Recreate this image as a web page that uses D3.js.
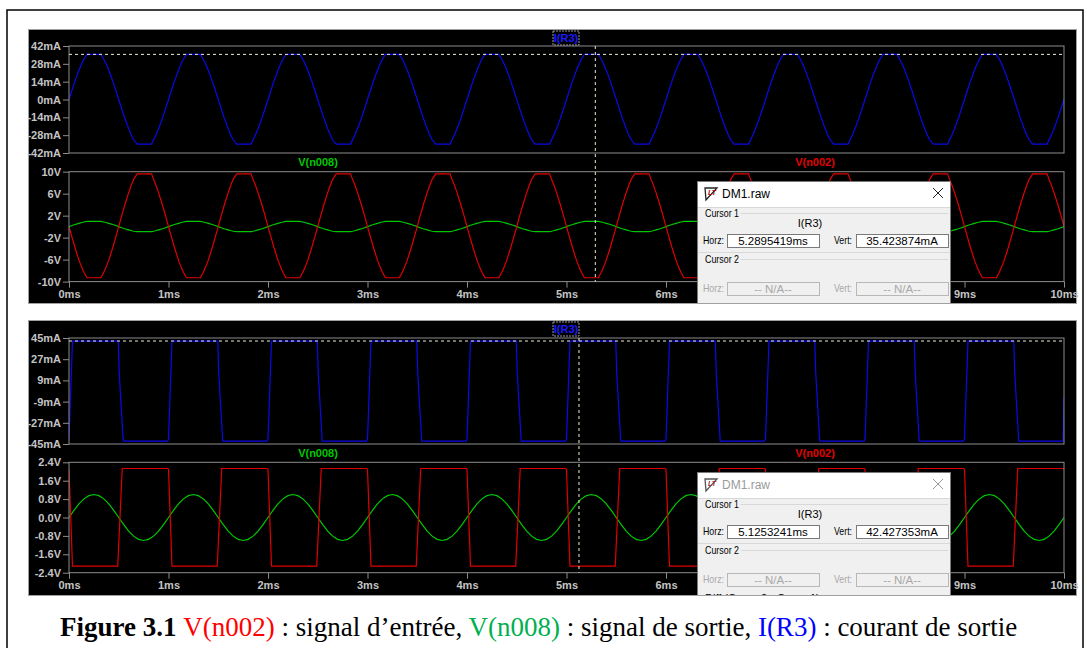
<!DOCTYPE html>
<html><head><meta charset="utf-8">
<script src="https://cdn.jsdelivr.net/npm/d3@7"></script>
<style>
html,body{margin:0;padding:0;background:#fff;}
svg{display:block;}
</style></head>
<body>
<svg id="chart" width="1087" height="648"></svg>
<script>
// ---------- DATA ----------
const timeTickValues = [0,1,2,3,4,5,6,7,8,9,10];
const timeTickLabels = ["0ms","1ms","2ms","3ms","4ms","5ms","6ms","7ms","8ms","9ms","10ms"];

const iTopTickValues = [42,28,14,0,-14,-28,-42];
const iTopTickLabels = ["42mA","28mA","14mA","0mA","-14mA","-28mA","-42mA"];
const vTopTickValues = [10,6,2,-2,-6,-10];
const vTopTickLabels = ["10V","6V","2V","-2V","-6V","-10V"];
const iBotTickValues = [45,27,9,-9,-27,-45];
const iBotTickLabels = ["45mA","27mA","9mA","-9mA","-27mA","-45mA"];
const vBotTickValues = [2.4,1.6,0.8,0,-0.8,-1.6,-2.4];
const vBotTickLabels = ["2.4V","1.6V","0.8V","0.0V","-0.8V","-1.6V","-2.4V"];

// start time (ms) of each of the ten visible periods
const cycleStarts = [0,1,2,3,4,5,6,7,8,9];

// top simulation : one period (times in ms from period start)
const topCycleT   = [0,0.03,0.06,0.10,0.13,0.15,0.18,0.32,0.35,0.37,0.40,0.44,0.47,0.50,0.53,0.56,0.60,0.63,0.65,0.685,0.83,0.85,0.87,0.90,0.94,0.97];
const iR3Top      = [0,7.3,14.4,22.9,28.4,31.6,35.4,35.4,31.6,28.4,22.9,14.4,7.3,0,-7.3,-14.4,-22.9,-28.4,-31.6,-35.0,-35.0,-31.6,-28.4,-22.9,-14.4,-7.3];
const vn002Top    = [0,-1.9,-3.8,-6.1,-7.5,-8.3,-9.3,-9.3,-8.3,-7.5,-6.1,-3.8,-1.9,0,2.0,3.9,6.2,7.7,8.6,9.6,9.6,8.6,7.7,6.2,3.9,2.0];
const vn008Top    = [0,0.2,0.39,0.6,0.75,0.84,0.95,0.95,0.84,0.75,0.6,0.39,0.2,0,-0.2,-0.39,-0.6,-0.75,-0.84,-0.92,-0.92,-0.84,-0.75,-0.6,-0.39,-0.2];

// bottom simulation : one period
const iR3BotT     = [0,0.035,0.495,0.505,0.545,0.99];
const iR3Bot      = [-41,42.4,42.4,15,-42.5,-42.5];
const vn002BotT   = [0,0.035,0.49,0.535,0.99];
const vn002Bot    = [2.1,-2.11,-2.11,2.13,2.13];
const vn008BotT   = [0,0.05,0.10,0.15,0.20,0.25,0.30,0.35,0.40,0.45,0.50,0.55,0.60,0.65,0.70,0.75,0.80,0.85,0.90,0.95];
const vn008Bot    = [0,0.31,0.59,0.81,0.95,1.0,0.95,0.81,0.59,0.31,0,-0.31,-0.59,-0.81,-0.95,-1.0,-0.95,-0.81,-0.59,-0.31];

// cursor read-outs
const cursorTop = {horz:"5.2895419ms", vert:"35.423874mA", t:5.2895419, v:35.423874};
const cursorBot = {horz:"5.1253241ms", vert:"42.427353mA", t:5.1253241, v:42.427353};

// ---------- helpers ----------
function tile(ts, vs, endT, endV){
  const pts = [];
  cycleStarts.forEach(s => ts.forEach((t,i) => pts.push([s+t, vs[i]])));
  pts.push([endT, endV]);
  return pts;
}

const svg = d3.select("#chart");
const C = {blue:"#0a0ae6", red:"#e00000", green:"#00c800", frame:"#8c8c8c", label:"#c4c4c4", cursor:"#ececd0"};
const x = d3.scaleLinear().domain([0,10]).range([69,1064]);
const DLG_X0 = 697, DLG_X1 = 950;

// outer figure border
svg.append("rect").attr("x",7).attr("y",10).attr("width",1076).attr("height",660)
  .attr("fill","none").attr("stroke","#000").attr("stroke-width",1.5);

let clipId = 0;
function plot(top, bottom, yDomain, tickVals, tickLabels, series, showX){
  const y = d3.scaleLinear().domain(yDomain).range([bottom, top]);
  const id = "clip"+(clipId++);
  svg.append("clipPath").attr("id",id).append("rect")
    .attr("x",69).attr("y",top).attr("width",995).attr("height",bottom-top);
  const ya = d3.axisLeft(y).tickValues(tickVals).tickFormat((d,i)=>tickLabels[i]).tickSize(6).tickPadding(2);
  const g = svg.append("g").attr("transform","translate(69,0)").call(ya);
  g.select(".domain").remove();
  g.selectAll("line").attr("stroke",C.frame);
  g.selectAll("text").attr("fill",C.label).attr("font-family","Liberation Sans, Arial, sans-serif")
    .attr("font-weight","bold").attr("font-size","11px");
  if(showX){
    const xa = d3.axisBottom(x).tickValues(timeTickValues).tickFormat((d,i)=>timeTickLabels[i]).tickSize(6).tickPadding(3);
    const gx = svg.append("g").attr("transform",`translate(0,${bottom})`).call(xa);
    gx.select(".domain").remove();
    gx.selectAll("line").attr("stroke",C.frame);
    gx.selectAll("text").attr("fill",C.label).attr("font-family","Liberation Sans, Arial, sans-serif")
      .attr("font-weight","bold").attr("font-size","11px");
    // labels entirely hidden behind the cursor dialog are not drawn
    gx.selectAll(".tick").filter(d => x(d)-14 > DLG_X0 && x(d)+14 < DLG_X1).select("text").remove();
  }
  const line = d3.line().x(d=>x(d[0])).y(d=>y(d[1]));
  const gs = svg.append("g").attr("clip-path",`url(#${id})`);
  series.forEach(s => gs.append("path").attr("d",line(s.data)).attr("fill","none")
     .attr("stroke",s.color).attr("stroke-width",1.2));
  svg.append("rect").attr("x",69).attr("y",top).attr("width",995).attr("height",bottom-top)
    .attr("fill","none").attr("stroke",C.frame).attr("stroke-width",1);
  return y;
}

function headerLabel(text, cx, cy, color, boxed){
  if(boxed){
    svg.append("rect").attr("x",cx-13).attr("y",cy-7).attr("width",26).attr("height",14)
      .attr("fill","#000").attr("stroke","#9a9a9a").attr("stroke-dasharray","2,1");
  }
  svg.append("text").attr("x",cx).attr("y",cy+4).attr("text-anchor","middle")
    .attr("font-family","Liberation Sans, Arial, sans-serif").attr("font-weight","bold")
    .attr("font-size","11px").attr("fill",color).text(text);
}

function screenshot(y0, y1){
  svg.append("rect").attr("x",28.5).attr("y",y0+0.5).attr("width",1048).attr("height",y1-y0)
    .attr("fill","#000").attr("stroke","#a0a0a0").attr("stroke-width",1);
}

function cursors(yScaleTop, cur, vTop, vBottom){
  const cy = yScaleTop(cur.v), cx = x(cur.t);
  svg.append("line").attr("x1",69).attr("x2",1064).attr("y1",cy).attr("y2",cy)
    .attr("stroke",C.cursor).attr("stroke-dasharray","3,3");
  svg.append("line").attr("x1",cx).attr("x2",cx).attr("y1",vTop).attr("y2",vBottom)
    .attr("stroke",C.cursor).attr("stroke-dasharray","3,3");
}

function dialog(x0, y0, clipBottom, cur, active){
  const id = "dlg"+(clipId++);
  svg.append("clipPath").attr("id",id).append("rect")
    .attr("x",x0-1).attr("y",y0-1).attr("width",256).attr("height",clipBottom-y0+1);
  const g = svg.append("g").attr("clip-path",`url(#${id})`);
  const W = DLG_X1 - DLG_X0;
  const font = "Liberation Sans, Arial, sans-serif";
  g.append("rect").attr("x",x0+0.5).attr("y",y0+0.5).attr("width",W).attr("height",140)
    .attr("fill","#f0f0f0").attr("stroke","#7a7a7a");
  g.append("rect").attr("x",x0+1).attr("y",y0+1).attr("width",W-1).attr("height",25).attr("fill","#fff");
  // icon
  const ic = g.append("g").attr("transform",`translate(${x0+8},${y0+6})`);
  ic.append("path").attr("d","M0,1 L12,1 L1,13 Z").attr("fill","none").attr("stroke",active?"#222":"#555").attr("stroke-width",1.3);
  ic.append("text").attr("x",3).attr("y",8).attr("font-family",font).attr("font-weight","bold")
    .attr("font-style","italic").attr("font-size","7px").attr("fill",active?"#b00000":"#a03030").text("LT");
  g.append("text").attr("x",x0+25).attr("y",y0+17).attr("font-family",font).attr("font-size","12px")
    .attr("fill",active?"#000":"#9a9a9a").text("DM1.raw");
  const xc = x0+241, yc = y0+12;
  g.append("path").attr("d",`M${xc-5},${yc-5}L${xc+5},${yc+5}M${xc+5},${yc-5}L${xc-5},${yc+5}`)
    .attr("stroke",active?"#222":"#9a9a9a").attr("stroke-width",1);
  // group 1
  g.append("line").attr("x1",x0+1).attr("x2",x0+W).attr("y1",y0+26.5).attr("y2",y0+26.5).attr("stroke","#d8d8d8");
  g.append("line").attr("x1",x0+44).attr("x2",x0+W-2).attr("y1",y0+32.5).attr("y2",y0+32.5).attr("stroke","#d8d8d8");
  g.append("text").attr("x",x0+8).attr("y",y0+36).attr("font-family",font).attr("font-size","11px").attr("fill","#000")
    .attr("textLength",34).attr("lengthAdjust","spacingAndGlyphs").text("Cursor 1");
  g.append("text").attr("x",x0+113).attr("y",y0+46).attr("text-anchor","middle").attr("font-family",font).attr("font-size","11px").attr("fill","#000").text("I(R3)");
  function field(lbl, lx, lw, bx, by, val, enabled){
    g.append("text").attr("x",lx).attr("y",by+10).attr("font-family",font).attr("font-size","10.5px")
      .attr("textLength",lw).attr("lengthAdjust","spacingAndGlyphs")
      .attr("fill",enabled?"#000":"#a8a8a8").text(lbl);
    g.append("rect").attr("x",bx+0.5).attr("y",by+0.5).attr("width",92).attr("height",13)
      .attr("fill",enabled?"#fff":"#f0f0f0").attr("stroke",enabled?"#7a7a7a":"#b8b8b8");
    g.append("text").attr("x",bx+46).attr("y",by+11).attr("text-anchor","middle").attr("font-family",font)
      .attr("font-size","11.5px").attr("fill",enabled?"#000":"#a8a8a8").text(val);
  }
  field("Horz:", x0+6, 21, x0+30, y0+53, cur.horz, true);
  field("Vert:", x0+137, 18, x0+159, y0+53, cur.vert, true);
  g.append("line").attr("x1",x0+1).attr("x2",x0+W).attr("y1",y0+71.5).attr("y2",y0+71.5).attr("stroke","#d8d8d8");
  g.append("line").attr("x1",x0+44).attr("x2",x0+W-2).attr("y1",y0+78.5).attr("y2",y0+78.5).attr("stroke","#d8d8d8");
  g.append("text").attr("x",x0+8).attr("y",y0+82).attr("font-family",font).attr("font-size","11px").attr("fill","#000")
    .attr("textLength",34).attr("lengthAdjust","spacingAndGlyphs").text("Cursor 2");
  field("Horz:", x0+6, 21, x0+30, y0+101, "-- N/A--", false);
  field("Vert:", x0+137, 18, x0+159, y0+101, "-- N/A--", false);
  g.append("text").attr("x",x0+8).attr("y",y0+130).attr("font-family",font).attr("font-size","11px").attr("fill","#000").text("Diff (Cursor2 - Cursor1)");
}

// ---------- TOP SCREENSHOT ----------
screenshot(29, 303);
const yA = plot(46, 153, [-42,42], iTopTickValues, iTopTickLabels,
  [{color:C.blue, data:tile(topCycleT, iR3Top, 10, 0)}], false);
const yB = plot(171.7, 281.6, [-10,10], vTopTickValues, vTopTickLabels,
  [{color:C.green, data:tile(topCycleT, vn008Top, 10, 0)},
   {color:C.red, data:tile(topCycleT, vn002Top, 10, 0)}], true);
headerLabel("I(R3)", 566, 38, "#1a1aff", true);
headerLabel("V(n008)", 318, 162, C.green, false);
headerLabel("V(n002)", 815, 162, C.red, false);
cursors(yA, cursorTop, 46, 281.6);
dialog(DLG_X0, 181, 303, cursorTop, true);

// ---------- BOTTOM SCREENSHOT ----------
screenshot(320, 595);
const yC = plot(338, 444, [-45,45], iBotTickValues, iBotTickLabels,
  [{color:C.blue, data:tile(iR3BotT, iR3Bot, 10, -5)}], false);
const yD = plot(462.3, 572.7, [-2.4,2.4], vBotTickValues, vBotTickLabels,
  [{color:C.green, data:tile(vn008BotT, vn008Bot, 10, 0)},
   {color:C.red, data:tile(vn002BotT, vn002Bot, 10, 2.1)}], true);
headerLabel("I(R3)", 566, 329, "#1a1aff", true);
headerLabel("V(n008)", 318, 453, C.green, false);
headerLabel("V(n002)", 815, 453, C.red, false);
cursors(yC, cursorBot, 338, 572.7);
dialog(DLG_X0, 472, 595, cursorBot, false);

// ---------- CAPTION ----------
const cap = svg.append("text").attr("x",60).attr("y",636).attr("font-family","Liberation Serif, 'Times New Roman', serif")
  .attr("font-size","27px").attr("fill","#000");
cap.append("tspan").attr("font-weight","bold").text("Figure 3.1 ");
cap.append("tspan").attr("fill","#ff0000").text("V(n002)");
cap.append("tspan").text(" : signal d\u2019entr\u00e9e, ");
cap.append("tspan").attr("fill","#00b050").text("V(n008)");
cap.append("tspan").text(" : signal de sortie, ");
cap.append("tspan").attr("fill","#0000ff").text("I(R3)");
cap.append("tspan").text(" : courant de sortie");
</script>
</body></html>
